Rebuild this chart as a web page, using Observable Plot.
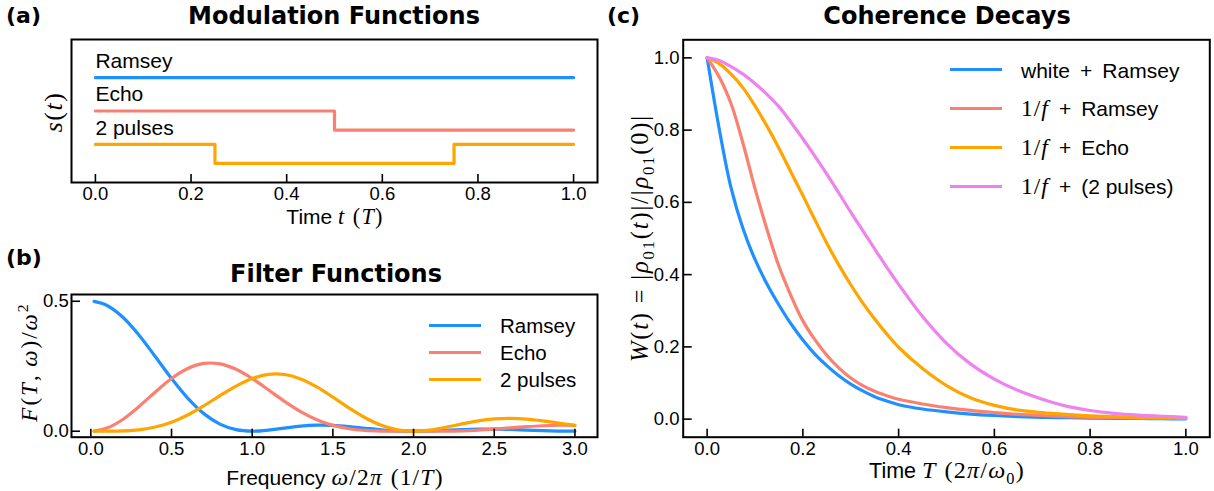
<!DOCTYPE html>
<html><head><meta charset="utf-8">
<script src="https://cdn.jsdelivr.net/npm/d3@7"></script>
<script src="https://cdn.jsdelivr.net/npm/@observablehq/plot@0.6"></script>
<style>
body{margin:0;background:#fff;}
#root{position:relative;width:1214px;height:491px;overflow:hidden;font-family:"Liberation Sans",Arial,sans-serif;color:#000;}
.abs{position:absolute;line-height:1;white-space:nowrap;}
.c{transform:translate(-50%,-50%);}
.rot{transform:translate(-50%,-50%) rotate(-90deg);}
.vm{transform:translate(0,-50%);}
.m{font-family:"Liberation Serif","DejaVu Serif",serif;font-style:italic;}
.r{font-family:"Liberation Serif","DejaVu Serif",serif;}
.mx{font-size:112%;letter-spacing:1.2px;line-height:1;}
.mxs{font-size:106%;letter-spacing:1.2px;line-height:1;}
.big{font-size:112%;letter-spacing:1px;}
.ttl{font-family:"DejaVu Sans",sans-serif;font-weight:bold;font-size:24px;}
.pl{font-family:"DejaVu Sans",sans-serif;font-weight:bold;font-size:22px;}
sub,sup{font-size:68%;line-height:0;}
.sw{position:absolute;height:3.5px;}
svg{position:absolute;}
</style></head><body><div id="root"></div>
<script>
// ---------- data ----------
const seriesColors = ["#1e90ff", "#fa8072", "#ffa500", "#ee82ee"];

// (a) modulation functions
const modNames = ["Ramsey", "Echo", "2 pulses"];
const modOffsets = [7, 3.5, 0];
const ramseyT = [0, 1];
const ramseyS = [1, 1];
const echoT = [0, 0.5, 1];
const echoS = [1, -1, -1];
const pulsesT = [0, 0.25, 0.75, 1];
const pulsesS = [1, -1, 1, 1];
const timeTicksA = [0, 0.2, 0.4, 0.6, 0.8, 1.0];

// (b) filter functions
const freqF = [0.02, 0.1, 0.2, 0.3, 0.4, 0.5, 0.6, 0.7, 0.8, 0.9, 1.0, 1.1, 1.2, 1.3, 1.4, 1.5, 1.6, 1.7, 1.8, 1.9, 2.0, 2.1, 2.2, 2.3, 2.4, 2.5, 2.6, 2.7, 2.8, 2.9, 3.0];
const ramseyF = [0.4993, 0.4838, 0.4376, 0.3684, 0.2864, 0.2026, 0.1273, 0.0677, 0.0273, 0.0060, 0.0000, 0.0040, 0.0122, 0.0196, 0.0234, 0.0225, 0.0179, 0.0115, 0.0054, 0.0013, 0.0000, 0.0011, 0.0036, 0.0063, 0.0080, 0.0081, 0.0068, 0.0045, 0.0022, 0.0006, 0.0000];
const echoF = [0.0005, 0.0121, 0.0462, 0.0957, 0.1512, 0.2026, 0.2411, 0.2607, 0.2591, 0.2381, 0.2026, 0.1594, 0.1151, 0.0756, 0.0443, 0.0225, 0.0094, 0.0030, 0.0006, 0.0000, 0.0000, 0.0000, 0.0004, 0.0016, 0.0042, 0.0081, 0.0128, 0.0175, 0.0211, 0.0229, 0.0225];
const pulsesF = [0.0000, 0.0001, 0.0012, 0.0055, 0.0160, 0.0348, 0.0626, 0.0979, 0.1368, 0.1737, 0.2026, 0.2185, 0.2181, 0.2013, 0.1706, 0.1312, 0.0895, 0.0517, 0.0227, 0.0054, 0.0000, 0.0044, 0.0152, 0.0282, 0.0398, 0.0472, 0.0495, 0.0467, 0.0401, 0.0314, 0.0225];
const freqTicks = [0, 0.5, 1.0, 1.5, 2.0, 2.5, 3.0];
const filterTicksY = [0, 0.5];

// (c) coherence decays
const timeC = [0, 0.025, 0.05, 0.075, 0.1, 0.125, 0.15, 0.175, 0.2, 0.225, 0.25, 0.275, 0.3, 0.325, 0.35, 0.375, 0.4, 0.45, 0.5, 0.55, 0.6, 0.65, 0.7, 0.75, 0.8, 0.85, 0.9, 0.95, 1.0];
const whiteRamsey = [1.000, 0.805, 0.640, 0.527, 0.442, 0.374, 0.316, 0.264, 0.219, 0.180, 0.148, 0.120, 0.097, 0.078, 0.062, 0.050, 0.040, 0.028, 0.020, 0.014, 0.010, 0.007, 0.005, 0.004, 0.003, 0.002, 0.002, 0.001, 0.001];
const ramsey1f = [1.000, 0.948, 0.873, 0.763, 0.638, 0.525, 0.423, 0.342, 0.272, 0.220, 0.177, 0.142, 0.114, 0.093, 0.077, 0.065, 0.055, 0.042, 0.032, 0.024, 0.018, 0.013, 0.010, 0.007, 0.005, 0.004, 0.003, 0.003, 0.002];
const echo1f = [1.000, 0.984, 0.955, 0.917, 0.867, 0.811, 0.750, 0.684, 0.619, 0.552, 0.487, 0.427, 0.372, 0.322, 0.277, 0.236, 0.199, 0.140, 0.093, 0.059, 0.038, 0.025, 0.018, 0.013, 0.009, 0.007, 0.005, 0.004, 0.003];
const pulses1f = [1.000, 0.993, 0.976, 0.955, 0.929, 0.899, 0.865, 0.822, 0.776, 0.728, 0.678, 0.626, 0.573, 0.522, 0.471, 0.421, 0.373, 0.284, 0.210, 0.153, 0.111, 0.079, 0.055, 0.036, 0.024, 0.016, 0.011, 0.008, 0.005];
const decayNames = ["white + Ramsey", "1/f + Ramsey", "1/f + Echo", "1/f + (2 pulses)"];
const decayTicks = [0, 0.2, 0.4, 0.6, 0.8, 1.0];

// ---------- build ----------
const root = document.getElementById("root");
const fmt = d3.format(".1f");
const baseStyle = {fontSize: "18.5px", fontFamily: "'Liberation Sans', Arial, sans-serif", background: "transparent", overflow: "visible", color: "#000"};

function place(svg, left, top) { svg.style.left = left + "px"; svg.style.top = top + "px"; root.appendChild(svg); }

// (a)
const modData = [];
[[ramseyT, ramseyS], [echoT, echoS], [pulsesT, pulsesS]].forEach(([T, S], k) =>
  T.forEach((t, i) => modData.push({name: modNames[k], t, s: S[i] + modOffsets[k]})));
const plotA = Plot.plot({
  width: 600, height: 240, marginLeft: 71, marginRight: 3, marginTop: 39, marginBottom: 58,
  style: baseStyle,
  x: {domain: [-0.05, 1.05]},
  y: {domain: [-3, 12], axis: null},
  color: {domain: modNames, range: seriesColors.slice(0, 3)},
  marks: [
    Plot.line(modData, {x: "t", y: "s", z: "name", stroke: "name", curve: "step-after", strokeWidth: 3.2}),
    Plot.text(modNames, {x: 0, y: (d, i) => modOffsets[i] + 2, text: d => d, textAnchor: "start", lineAnchor: "bottom", fontSize: 21}),
    Plot.axisX({ticks: timeTicksA, tickFormat: fmt, tickSize: -8, tickPadding: 12.5, strokeWidth: 1.6, label: null}),
    Plot.frame({stroke: "#000", strokeWidth: 2})
  ]
});
place(plotA, 0, 0);

// (b)
const filtData = [];
[ramseyF, echoF, pulsesF].forEach((vals, k) => vals.forEach((v, i) => filtData.push({name: modNames[k], f: freqF[i], v})));
const plotB = Plot.plot({
  width: 600, height: 251, marginLeft: 71, marginRight: 3, marginTop: 54, marginBottom: 54.3,
  style: baseStyle,
  x: {domain: [-0.12, 3.14]},
  y: {domain: [-0.023, 0.526]},
  color: {domain: modNames, range: seriesColors.slice(0, 3)},
  marks: [
    Plot.line(filtData, {x: "f", y: "v", z: "name", stroke: "name", curve: "catmull-rom", strokeWidth: 3.2}),
    Plot.axisX({ticks: freqTicks, tickFormat: fmt, tickSize: -8, tickPadding: 13, strokeWidth: 1.6, label: null}),
    Plot.axisY({ticks: filterTicksY, tickFormat: fmt, tickSize: -9, tickPadding: 11.7, strokeWidth: 1.6, label: null}),
    Plot.frame({stroke: "#000", strokeWidth: 2})
  ]
});
place(plotB, 0, 240);

// (c)
const decayData = [];
[whiteRamsey, ramsey1f, echo1f, pulses1f].forEach((vals, k) => vals.forEach((v, i) => decayData.push({name: decayNames[k], t: timeC[i], v})));
const plotC = Plot.plot({
  width: 614, height: 491, marginLeft: 82.7, marginRight: 4.7, marginTop: 39.3, marginBottom: 54.3,
  style: baseStyle,
  x: {domain: [-0.05, 1.05]},
  y: {domain: [-0.05, 1.05]},
  color: {domain: decayNames, range: seriesColors},
  marks: [
    Plot.line(decayData, {x: "t", y: "v", z: "name", stroke: "name", curve: "catmull-rom", strokeWidth: 3.2}),
    Plot.axisX({ticks: decayTicks, tickFormat: fmt, tickSize: -8, tickPadding: 13, strokeWidth: 1.6, label: null}),
    Plot.axisY({ticks: decayTicks, tickFormat: fmt, tickSize: -9, tickPadding: 12.7, strokeWidth: 1.6, label: null}),
    Plot.frame({stroke: "#000", strokeWidth: 2})
  ]
});
place(plotC, 600, 0);

// ---------- text & legends ----------
function addText(html, x, y, cls, size, ls) {
  const d = document.createElement("div");
  d.className = "abs " + cls;
  d.style.left = x + "px"; d.style.top = y + "px";
  if (size) d.style.fontSize = size + "px";
  if (ls) d.style.letterSpacing = ls + "px";
  d.innerHTML = html;
  root.appendChild(d);
}
// panel letters & titles
addText("(a)", 6, 16, "pl vm");
addText("Modulation Functions", 334, 15.5, "ttl c");
addText("(b)", 6, 258, "pl vm");
addText("Filter Functions", 336, 274, "ttl c");
addText("(c)", 607, 16, "pl vm");
addText("Coherence Decays", 947, 15.5, "ttl c");
// axis labels
addText('Time <span class="mxs"><span class="m">t</span> <span class="r">(</span><span class="m">T</span><span class="r">)</span></span>', 335, 217, "c", 21);
addText('<span class="m">s</span><span class="r">(</span><span class="m">t</span><span class="r">)</span>', 53, 112, "rot", 26, 1.5);
addText('Frequency <span class="mx"><span class="m">ω</span><span class="r">/2</span><span class="m">π</span> <span class="r">(1/</span><span class="m">T</span><span class="r">)</span></span>', 335, 477.5, "c", 21);
addText('<span class="m">F</span><span class="r">(</span><span class="m">T</span><span class="r">,&thinsp;</span><span class="m">ω</span><span class="r">)/</span><span class="m">ω</span><sup class="r">2</sup>', 29, 362, "rot", 23, 2);
addText('Time <span class="mx"><span class="m">T</span> <span class="r">(2</span><span class="m">π</span><span class="r">/</span><span class="m">ω</span><sub class="r">0</sub><span class="r">)</span></span>', 947, 470, "c", 21.5);
addText('<span class="m">W</span><span class="r">(</span><span class="m">t</span><span class="r">) = |</span><span class="m">ρ</span><sub class="r">01</sub><span class="r">(</span><span class="m">t</span><span class="r">)|/|</span><span class="m">ρ</span><sub class="r">01</sub><span class="r">(0)|</span>', 640, 238, "rot", 24.5, 1.8);

function addSwatch(color, x, y, w) {
  const s = document.createElement("div");
  s.className = "sw";
  s.style.left = x + "px"; s.style.top = (y - 1.75) + "px"; s.style.width = w + "px";
  s.style.background = color;
  root.appendChild(s);
}
// legend (b)
const legBY = [325.5, 352.5, 379.5];
modNames.forEach((n, i) => { addSwatch(seriesColors[i], 429, legBY[i], 52); addText(n, 500, legBY[i], "vm", 20.5); });
// legend (c)
const legCY = [69.5, 108.5, 147.5, 186.7];
const legCHtml = [
  'white&thinsp; + &thinsp;Ramsey',
  '<span class="r big">1/</span><span class="m big">f</span>&thinsp; + &thinsp;Ramsey',
  '<span class="r big">1/</span><span class="m big">f</span>&thinsp; + &thinsp;Echo',
  '<span class="r big">1/</span><span class="m big">f</span>&thinsp; + &thinsp;(2 pulses)'
];
decayNames.forEach((n, i) => { addSwatch(seriesColors[i], 950, legCY[i], 52); addText(legCHtml[i], 1021, legCY[i], "vm", 21); });
</script>
</body></html>
